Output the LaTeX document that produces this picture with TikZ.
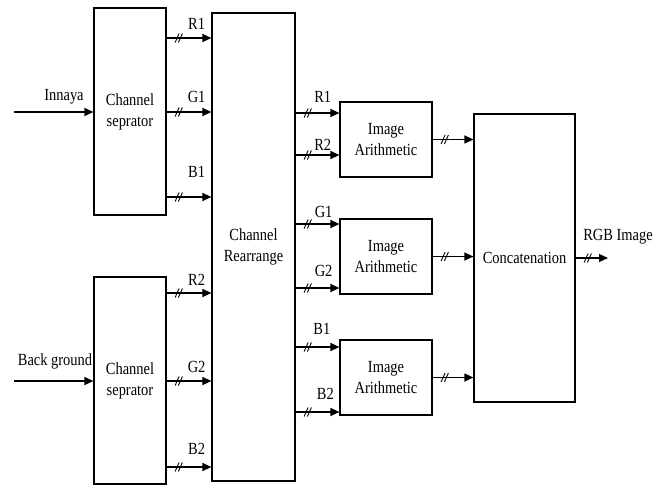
\documentclass[tikz,border=0pt]{standalone}
\usepackage{fontspec}
\setmainfont{Liberation Serif}[FakeStretch=0.85]
\usetikzlibrary{arrows.meta, decorations.markings}
\tikzset{
  my block style/.style={
    draw=black,              % box border
    line width=1.2pt,        % border thickness
    inner sep=0pt,
    align=center
  },
  bus/.style={
    ->,                      % arrow at the end
    postaction={decorate},
    decoration={markings,
      mark=at position 11pt with {\draw[-, line width=0.9pt] (-2.5pt,-4.5pt) -- (1.5pt,4.5pt) (0.8pt,-4.5pt) -- (4.8pt,4.5pt);}}
  },
  lbl/.style={inner sep=0pt}
}

\begin{document}
\begin{tikzpicture}[x=1pt, y=-1pt, >={Triangle[length=9pt,width=8pt]}, line width=1.2pt,
    font=\fontsize{17}{21}\selectfont]
    \useasboundingbox (0,0) rectangle (671,485);

    % Channel separators and the rearrange block
    \node[my block style, minimum width=72pt, minimum height=207pt] (sepA) at (130,111.5) {Channel\\seprator};
    \node[my block style, minimum width=72pt, minimum height=207pt] (sepB) at (130,380.5) {Channel\\seprator};
    \node[my block style, minimum width=83pt, minimum height=468pt] (rearr) at (253.5,247) {Channel\\Rearrange};

    % Image arithmetic blocks and the concatenation
    \node[my block style, minimum width=92pt, minimum height=75pt] (arithA) at (386,139.5) {Image\\Arithmetic};
    \node[my block style, minimum width=92pt, minimum height=75pt] (arithB) at (386,256.5) {Image\\Arithmetic};
    \node[my block style, minimum width=92pt, minimum height=75pt] (arithC) at (386,377.5) {Image\\Arithmetic};
    \node[my block style, minimum width=101pt, minimum height=288pt] (concat) at (524.5,258) {Concatenation};

    % Inputs
    \coordinate (inA) at (14,112);
    \coordinate (inB) at (14,381);
    \draw[->] (inA) -- (sepA.west |- inA);
    \draw[->] (inB) -- (sepB.west |- inB);
    \node[anchor=base] (innaya) at (64,100) {Innaya};
    \node[anchor=base] (backgr) at (55,365) {Back ground};

    % Separator outputs
    \coordinate (sr1) at (0,38);  \coordinate (sg1) at (0,112); \coordinate (sb1) at (0,197);
    \coordinate (sr2) at (0,293); \coordinate (sg2) at (0,381); \coordinate (sb2) at (0,467);
    \draw[bus] (sepA.east |- sr1) -- (rearr.west |- sr1) node[lbl, pos=0.67, above=8.4pt] {R1};
    \draw[bus] (sepA.east |- sg1) -- (rearr.west |- sg1) node[lbl, pos=0.67, above=8.4pt] {G1};
    \draw[bus] (sepA.east |- sb1) -- (rearr.west |- sb1) node[lbl, pos=0.67, above=18.4pt] {B1};
    \draw[bus] (sepB.east |- sr2) -- (rearr.west |- sr2) node[lbl, pos=0.67, above=7.4pt] {R2};
    \draw[bus] (sepB.east |- sg2) -- (rearr.west |- sg2) node[lbl, pos=0.67, above=7.4pt] {G2};
    \draw[bus] (sepB.east |- sb2) -- (rearr.west |- sb2) node[lbl, pos=0.67, above=11.4pt] {B2};

    % Rearrange outputs
    \coordinate (or1) at (0,113); \coordinate (or2) at (0,155);
    \coordinate (og1) at (0,224); \coordinate (og2) at (0,288);
    \coordinate (ob1) at (0,347); \coordinate (ob2) at (0,412);
    \draw[bus] (rearr.east |- or1) -- (arithA.west |- or1) node[lbl, pos=0.62, above=10.4pt] {R1};
    \draw[bus] (rearr.east |- or2) -- (arithA.west |- or2) node[lbl, pos=0.62, above=4.4pt] {R2};
    \draw[bus] (rearr.east |- og1) -- (arithB.west |- og1) node[lbl, pos=0.64, above=5.4pt] {G1};
    \draw[bus] (rearr.east |- og2) -- (arithB.west |- og2) node[lbl, pos=0.64, above=10.4pt] {G2};
    \draw[bus] (rearr.east |- ob1) -- (arithC.west |- ob1) node[lbl, pos=0.6, above=11.4pt] {B1};
    \draw[bus] (rearr.east |- ob2) -- (arithC.west |- ob2) node[lbl, pos=0.68, above=11.4pt] {B2};

    % Into the concatenation and out
    \draw[bus] (arithA.east) -- (concat.west |- arithA.east);
    \draw[bus] (arithB.east) -- (concat.west |- arithB.east);
    \draw[bus] (arithC.east) -- (concat.west |- arithC.east);
    \coordinate (out) at (608,258);
    \draw[bus] (concat.east |- out) -- (out);
    \node[anchor=base] (rgb) at (618,240) {RGB Image};
\end{tikzpicture}
\end{document}
